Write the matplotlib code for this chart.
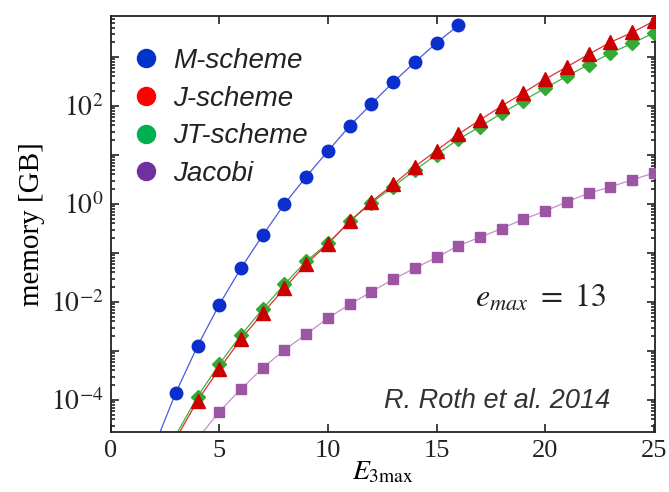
import numpy as np
import matplotlib
matplotlib.use("Agg")
import matplotlib.pyplot as plt
from matplotlib.lines import Line2D
from matplotlib.ticker import LogLocator, FuncFormatter, NullFormatter, MultipleLocator, FixedLocator

plt.rcParams['font.family'] = ['Liberation Serif', 'DejaVu Serif']
plt.rcParams['mathtext.fontset'] = 'stix'

# ---------------- data ----------------
E_m = [3, 4, 5, 6, 7, 8, 9, 10, 11, 12, 13, 14, 15, 16]
mem_m = [1.4e-4, 1.26e-3, 8.8e-3, 0.049, 0.23, 1.0, 3.6, 12, 39, 110, 305, 780, 1950, 4400]

E_j = list(range(4, 26))
mem_j = [9.7e-5, 4.3e-4, 1.76e-3, 5.9e-3, 0.019, 0.06, 0.153, 0.44, 1.11, 2.5, 5.8,
         12.3, 26.5, 52, 100, 187, 351, 631, 1135, 1995, 3170, 5400]

E_jt = list(range(4, 26))
mem_jt = [1.17e-4, 5.4e-4, 2.1e-3, 7.2e-3, 0.023, 0.068, 0.158, 0.44, 1.05, 2.24, 4.9,
          10.2, 20.9, 38, 71, 129, 232, 407, 700, 1200, 1900, 3100]

E_jac = list(range(5, 26))
mem_jac = [5.8e-5, 1.66e-4, 4.5e-4, 1.05e-3, 2.2e-3, 4.7e-3, 8.9e-3, 0.0162, 0.029, 0.049,
           0.081, 0.141, 0.209, 0.316, 0.49, 0.72, 1.11, 1.66, 2.24, 3.1, 4.3]

# fitted curves continue below the plotted range
tail_E_m, tail_mem_m = [2], [1.1e-5]
tail_E_j, tail_mem_j = [3], [1.6e-5]
tail_E_jt, tail_mem_jt = [3], [1.9e-5]
tail_E_jac, tail_mem_jac = [4], [1.6e-5]

y_major_exponents = [-4, -3, -2, -1, 0, 1, 2, 3]
x_ticks = [0, 5, 10, 15, 20, 25]

legend_labels = ["M-scheme", "J-scheme", "JT-scheme", "Jacobi"]
legend_colors = ["#0033cc", "#ff0000", "#00b050", "#7030a0"]

# ---------------- figure ----------------
fig = plt.figure(figsize=(6.69, 4.92), dpi=100)
ax = fig.add_axes([0.1653, 0.122, 0.8137, 0.8455])

ax.plot(tail_E_m + E_m, tail_mem_m + mem_m, color="#4a5ae0", lw=0.9, zorder=2)
ax.plot(E_m, mem_m, ls="none", marker="o", ms=9, color="#0a2fcc", zorder=3)

ax.plot(tail_E_jt + E_jt, tail_mem_jt + mem_jt, color="#40b040", lw=0.9, zorder=2)
ax.plot(tail_E_j + E_j, tail_mem_j + mem_j, color="#e03030", lw=0.9, zorder=2)
ax.plot(E_jt, mem_jt, ls="none", marker="D", ms=7.5, color="#33aa33", zorder=3)
ax.plot(E_j, mem_j, ls="none", marker="^", ms=10, color="#cc0000", zorder=4)

ax.plot(tail_E_jac + E_jac, tail_mem_jac + mem_jac, color="#c68fcc", lw=0.9, zorder=2)
ax.plot(E_jac, mem_jac, ls="none", marker="s", ms=7, color="#9b55a3", zorder=3)

ax.set_yscale("log")
ax.set_xlim(0, 25.05)
ax.set_ylim(10 ** -4.653, 10 ** 3.837)

ax.xaxis.set_major_locator(FixedLocator(x_ticks))
ax.yaxis.set_major_locator(FixedLocator([10.0 ** e for e in y_major_exponents]))
ax.yaxis.set_minor_locator(LogLocator(base=10, subs=np.arange(2, 10), numticks=30))
ax.yaxis.set_minor_formatter(NullFormatter())


def yfmt(v, pos):
    e = int(round(np.log10(v)))
    if e % 2 == 0:
        return r"$10^{%d}$" % e
    return ""


ax.yaxis.set_major_formatter(FuncFormatter(yfmt))

ax.tick_params(which="both", direction="in", top=True, right=True, width=1.2, colors="#222222")
ax.tick_params(which="major", length=5.5)
ax.tick_params(which="minor", length=3)
ax.tick_params(axis="x", labelsize=19, pad=6)
ax.tick_params(axis="y", labelsize=20, pad=5)
for s in ax.spines.values():
    s.set_linewidth(1.3)
    s.set_color("#222222")

ax.set_xlabel(r"$E_{3\mathrm{max}}$", fontsize=20, labelpad=-2)
ax.set_ylabel("memory [GB]", fontsize=21, labelpad=4)

handles = [Line2D([], [], ls="none", marker="o", ms=13, color=c) for c in legend_colors]
leg = ax.legend(handles, legend_labels, loc="upper left", bbox_to_anchor=(0.025, 0.95),
                frameon=False, handlelength=0.8, handletextpad=0.55, labelspacing=0.42,
                borderaxespad=0, prop={"family": "Liberation Sans", "style": "italic", "size": 20})
for t in leg.get_texts():
    t.set_color("#222222")

ax.text(22.8, 10 ** -2.1, r"$e_{max}\ =\ 13$", fontsize=23, ha="right", va="baseline", color="#222222")
ax.text(23.0, 10 ** -4.16, "R. Roth et al. 2014", fontsize=19.5, ha="right", va="baseline",
        family="Liberation Sans", style="italic", color="#333333")

fig.savefig("out.png", dpi=100)
